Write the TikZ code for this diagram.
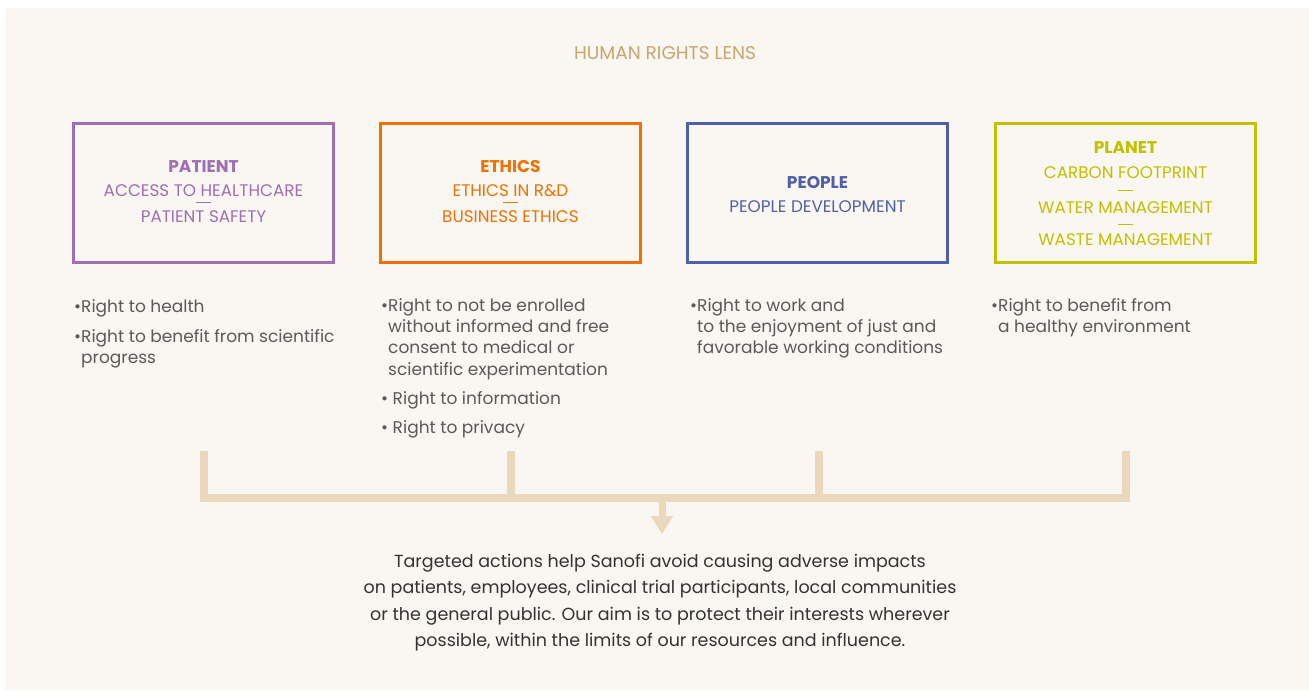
\documentclass[tikz,border=0pt]{standalone}
\usepackage{fontspec}
\setmainfont{Poppins}
\usetikzlibrary{arrows.meta}
\definecolor{bgc}{HTML}{FAF6F1}
\definecolor{tan}{HTML}{C8A66E}
\definecolor{pur}{HTML}{A06EB2}
\definecolor{ora}{HTML}{EE7203}
\definecolor{blu}{HTML}{5060A8}
\definecolor{oli}{HTML}{C3C000}
\definecolor{brk}{HTML}{EBD7BC}
\definecolor{txt}{HTML}{5A5A5A}
\definecolor{dark}{HTML}{333333}
\tikzset{
  lensbox/.style={draw, line width=3pt, minimum width=260pt, minimum height=139pt, inner sep=0pt},
  hdtext/.style={font=\fontsize{17}{20}\bfseries\selectfont, inner sep=0pt},
  subtext/.style={font=\fontsize{16.8}{20}\selectfont, inner sep=0pt},
  bullets/.style={anchor=north west, align=left, text=txt, font=\fontsize{17}{21.3}\selectfont, inner sep=0pt},
  bar/.style={draw=brk, line width=8pt},
  dashbar/.style={line width=1.5pt}
}
\begin{document}
\begin{tikzpicture}[x=1pt,y=-1pt]
\useasboundingbox (0,0) rectangle (1309,693);
\fill[bgc] (5,8) rectangle (1309,690);
\node[text=tan, font=\fontsize{18.5}{22}\selectfont, inner sep=0pt] (title) at (665,53) {HUMAN RIGHTS LENS};

% boxes
\node[lensbox, draw=pur] (b1) at (203.5,193) {};
\node[lensbox, draw=ora] (b2) at (510.5,193) {};
\node[lensbox, draw=blu] (b3) at (817.5,193) {};
\node[lensbox, draw=oli] (b4) at (1125.5,193) {};

% box texts
\node[hdtext, text=pur] (t1a) at (203.5,167) {PATIENT};
\node[subtext, text=pur] (t1b) at (203.5,191) {ACCESS TO HEALTHCARE};
\node[subtext, text=pur] (t1c) at (203.5,217) {PATIENT SAFETY};
\draw[pur, dashbar] (196,202.5) -- (211,202.5);

\node[hdtext, text=ora] (t2a) at (510.5,167) {ETHICS};
\node[subtext, text=ora] (t2b) at (510.5,191) {ETHICS IN R\&D};
\node[subtext, text=ora] (t2c) at (510.5,217) {BUSINESS ETHICS};
\draw[ora, dashbar] (503,202.5) -- (518,202.5);

\node[hdtext, text=blu] (t3a) at (817.5,183) {PEOPLE};
\node[subtext, text=blu] (t3b) at (817.5,207) {PEOPLE DEVELOPMENT};

\node[hdtext, text=oli] (t4a) at (1125.5,148) {PLANET};
\node[subtext, text=oli] (t4b) at (1125.5,173) {CARBON FOOTPRINT};
\draw[oli, dashbar] (1118,190.5) -- (1133,190.5);
\node[subtext, text=oli] (t4c) at (1125.5,208) {WATER MANAGEMENT};
\draw[oli, dashbar] (1118,224.5) -- (1133,224.5);
\node[subtext, text=oli] (t4d) at (1125.5,240) {WASTE MANAGEMENT};

% bullet lists
\node[bullets] (l1a) at (74,299) {\textbullet Right to health};
\node[bullets] (l1b) at (74,329) {\textbullet Right to benefit from scientific\\\hphantom{\textbullet}progress};

\node[bullets] (l2a) at (381,298) {\textbullet Right to not be enrolled\\\hphantom{\textbullet}without informed and free\\\hphantom{\textbullet}consent to medical or\\\hphantom{\textbullet}scientific experimentation};
\node[bullets] (l2b) at (381,391) {\textbullet\ Right to information};
\node[bullets] (l2c) at (381,420) {\textbullet\ Right to privacy};

\node[bullets] (l3a) at (690,298) {\textbullet Right to work and\\\hphantom{\textbullet}to the enjoyment of just and\\\hphantom{\textbullet}favorable working conditions};

\node[bullets] (l4a) at (991,298) {\textbullet Right to benefit from\\\hphantom{\textbullet}a healthy environment};

% bracket
\coordinate (v1) at (204,451);
\coordinate (v2) at (511,451);
\coordinate (v3) at (819,451);
\coordinate (v4) at (1126,451);
\coordinate (h1) at (204,497.5);
\coordinate (h4) at (1126,497.5);
\draw[bar, line join=miter] (v1) -- (h1) -- (h4) -- (v4);
\draw[bar] (v2) -- (511,497.5);
\draw[bar] (v3) -- (819,497.5);
\coordinate (am) at (662,497.5);

% bottom text
\node[text=dark, align=center, font=\fontsize{17.5}{26.4}\selectfont, inner sep=0pt, anchor=north] (bt) at (660,554)
{Targeted actions help Sanofi avoid causing adverse impacts\\
on patients, employees, clinical trial participants, local communities\\
or the general public. Our aim is to protect their interests wherever\\
possible, within the limits of our resources and influence.};

\draw[draw=brk, line width=7pt, -{Triangle[width=21pt,length=18pt]}] (am) -- (662,534);
\end{tikzpicture}
\end{document}
